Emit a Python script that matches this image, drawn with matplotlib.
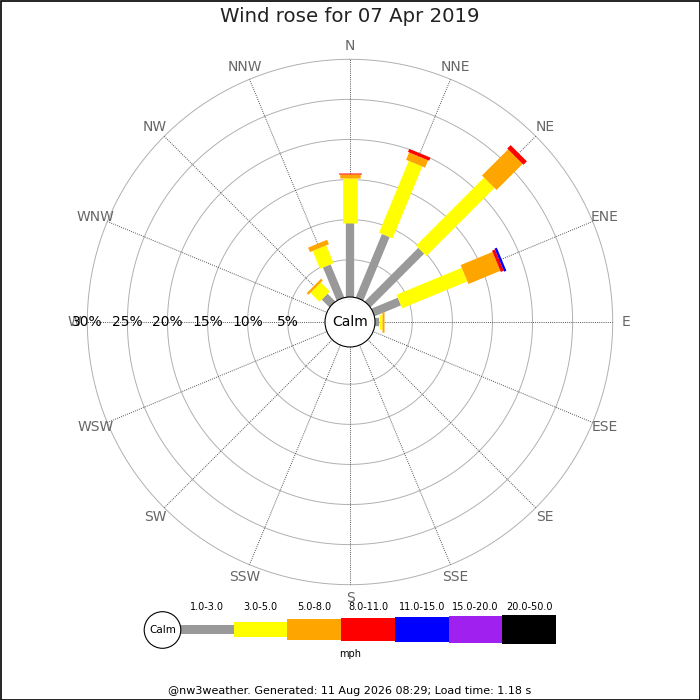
import numpy as np
import matplotlib.pyplot as plt
from matplotlib.patches import Circle, Rectangle

# wind rose data (% of time), per direction and speed bin
directions = ['N', 'NNE', 'NE', 'ENE', 'E', 'ESE', 'SE', 'SSE',
              'S', 'SSW', 'SW', 'WSW', 'W', 'WNW', 'NW', 'NNW']
speed_bins = ['1.0-3.0', '3.0-5.0', '5.0-8.0', '8.0-11.0', '11.0-15.0', '15.0-20.0', '20.0-50.0']
bin_colors = ['#999999', '#ffff00', '#ffa500', '#ff0000', '#0000ff', '#a020f0', '#000000']
bin_widths = [8.3, 14.7, 20.5, 23, 25, 27, 28.3]   # px

freq = {
    'N':   [9.55, 5.6, 0.5, 0.15],
    'NNE': [8.9, 9.7, 1.0, 0.4],
    'NE':  [9.8, 12.0, 4.6, 0.6],
    'ENE': [3.9, 8.8, 4.3, 0.4, 0.3],
    'E':   [0.8, 0.4, 0.3],
    'NW':  [1.7, 1.6, 0.3],
    'NNW': [4.8, 2.4, 0.6],
}
ring_pcts = [5, 10, 15, 20, 25, 30]

title = 'Wind rose for 07 Apr 2019'
footer = '@nw3weather. Generated: 11 Aug 2026 08:29; Load time: 1.18 s'

W = 700
fig = plt.figure(figsize=(7, 7), dpi=100)

# polar area: centre (350, 322), 30% ring at 262.7 px, 0% at 22.2 px
r_out = 262.7
r0 = 22.2
cx, cy = 350, 322
ax = fig.add_axes([(cx - r_out) / W, (W - cy - r_out) / W, 2 * r_out / W, 2 * r_out / W],
                  projection='polar')
ax.set_theta_zero_location('N')
ax.set_theta_direction(-1)
ax.set_rorigin(-r0 / ((r_out - r0) / 30))
ax.set_ylim(0, 30)
ax.set_axis_off()

tt = np.linspace(0, 2 * np.pi, 400)
for p in ring_pcts:
    ax.plot(tt, np.full_like(tt, p), color='#b0b0b0', lw=0.7, zorder=1, clip_on=False)

angles = np.deg2rad(np.arange(16) * 22.5)
for a, d in zip(angles, directions):
    ax.plot([a, a], [0, 30], color='#555555', lw=0.7, ls=(0, (1, 1.2)), zorder=1)
    ax.text(a, 31.6, d, color='#666666', fontsize=10, ha='center', va='center', clip_on=False)

px2pt = 72 / 100
for d, vals in freq.items():
    a = angles[directions.index(d)]
    start = 0
    for i, v in enumerate(vals):
        ax.plot([a, a], [start, start + v], color=bin_colors[i], lw=bin_widths[i] * px2pt,
                solid_capstyle='butt', zorder=3 + i)
        start += v

for p in ring_pcts:
    ax.text(np.deg2rad(270), p, f'{p}%', fontsize=10, ha='center', va='center', zorder=10)

ax.add_patch(Circle((0.5, 0.5), 25 / (2 * r_out), transform=ax.transAxes,
                    fc='white', ec='black', lw=0.8, zorder=11))
ax.text(0.5, 0.5, 'Calm', transform=ax.transAxes, fontsize=10, ha='center', va='center', zorder=12)

# legend + texts in pixel coords
lax = fig.add_axes([0, 0, 1, 1], zorder=-1)
lax.set_xlim(0, W)
lax.set_ylim(W, 0)
lax.set_axis_off()
lax.text(350, 17, title, fontsize=14.2, color='#222222', ha='center', va='center')

seg_x = np.linspace(180, 556, len(speed_bins) + 1)
ly = 629.5
for i, lab in enumerate(speed_bins):
    h = bin_widths[i]
    lax.add_patch(Rectangle((seg_x[i], ly - h / 2), seg_x[i + 1] - seg_x[i], h,
                            fc=bin_colors[i], ec='none'))
    lax.text((seg_x[i] + seg_x[i + 1]) / 2, 607, lab, fontsize=7, ha='center', va='center')
lax.add_patch(Circle((162.5, 630), 18.3, fc='white', ec='black', lw=0.8, zorder=5))
lax.text(162.5, 630, 'Calm', fontsize=7.5, ha='center', va='center', zorder=6)
lax.text(350, 654, 'mph', fontsize=7, ha='center', va='center')
lax.text(350, 691, footer, fontsize=8, ha='center', va='center')
lax.add_patch(Rectangle((0.5, 0.5), W - 1, W - 1, fc='none', ec='black', lw=1.2))

fig.savefig('out.png', dpi=100)
